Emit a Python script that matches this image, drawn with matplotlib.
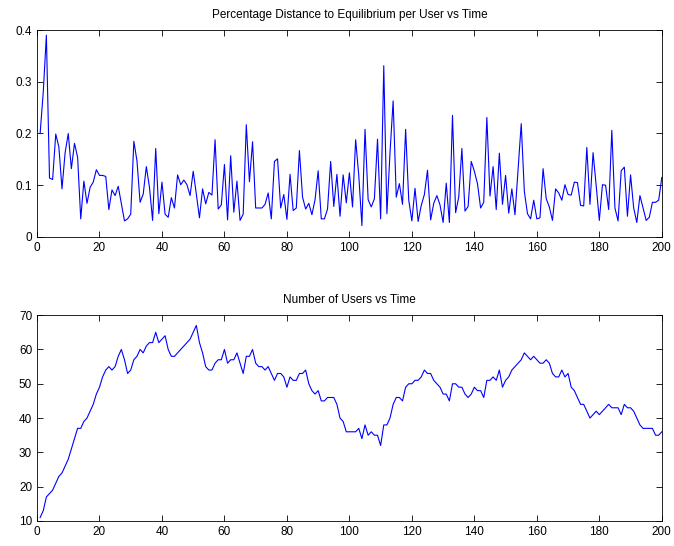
import numpy as np
import matplotlib.pyplot as plt

plt.rcParams['font.family'] = ['Liberation Sans', 'DejaVu Sans']

t = np.arange(1, 201)

# percentage distance to equilibrium per user
dist = [0.20, 0.28, 0.39, 0.114, 0.111, 0.199, 0.174, 0.093, 0.163, 0.20,
        0.132, 0.181, 0.154, 0.035, 0.108, 0.065, 0.096, 0.106, 0.130, 0.119,
        0.119, 0.117, 0.053, 0.091, 0.080, 0.098, 0.064, 0.031, 0.035, 0.044,
        0.185, 0.147, 0.067, 0.083, 0.136, 0.096, 0.032, 0.171, 0.045, 0.106,
        0.044, 0.038, 0.076, 0.056, 0.120, 0.101, 0.110, 0.101, 0.080, 0.127,
        0.083, 0.037, 0.093, 0.064, 0.086, 0.081, 0.188, 0.054, 0.062, 0.140,
        0.033, 0.157, 0.048, 0.108, 0.032, 0.044, 0.217, 0.107, 0.184, 0.056,
        0.056, 0.056, 0.063, 0.085, 0.035, 0.146, 0.151, 0.056, 0.082, 0.034,
        0.121, 0.051, 0.056, 0.167, 0.077, 0.054, 0.065, 0.043, 0.072, 0.128,
        0.035, 0.035, 0.054, 0.146, 0.059, 0.121, 0.040, 0.120, 0.066, 0.124,
        0.058, 0.188, 0.119, 0.022, 0.208, 0.072, 0.058, 0.074, 0.189, 0.035,
        0.331, 0.045, 0.163, 0.263, 0.077, 0.103, 0.063, 0.208, 0.071, 0.031,
        0.094, 0.030, 0.061, 0.082, 0.129, 0.033, 0.065, 0.080, 0.062, 0.028,
        0.104, 0.028, 0.235, 0.047, 0.077, 0.171, 0.050, 0.059, 0.146, 0.127,
        0.103, 0.056, 0.067, 0.231, 0.079, 0.136, 0.053, 0.162, 0.063, 0.119,
        0.046, 0.093, 0.043, 0.131, 0.219, 0.088, 0.045, 0.035, 0.071, 0.035,
        0.037, 0.132, 0.074, 0.058, 0.032, 0.093, 0.085, 0.071, 0.101, 0.082,
        0.081, 0.106, 0.105, 0.061, 0.060, 0.173, 0.063, 0.163, 0.099, 0.032,
        0.101, 0.100, 0.053, 0.206, 0.056, 0.031, 0.128, 0.135, 0.040, 0.120,
        0.056, 0.028, 0.080, 0.056, 0.032, 0.038, 0.067, 0.067, 0.071, 0.115]

# number of users
users = [11, 13, 17, 18, 19, 21, 23, 24, 26, 28,
         31, 34, 37, 37, 39, 40, 42, 44, 47, 49,
         52, 54, 55, 54, 55, 58, 60, 57, 53, 54,
         57, 58, 60, 59, 61, 62, 62, 65, 62, 63,
         64, 60, 58, 58, 59, 60, 61, 62, 63, 65,
         67, 62, 59, 55, 54, 54, 56, 57, 57, 60,
         56, 57, 57, 59, 56, 53, 58, 58, 60, 56,
         55, 55, 54, 55, 53, 51, 53, 53, 52, 49,
         52, 51, 51, 53, 53, 54, 50, 48, 47, 48,
         45, 45, 46, 46, 46, 44, 40, 39, 36, 36,
         36, 36, 37, 34, 38, 35, 36, 35, 35, 32,
         38, 38, 40, 44, 46, 46, 45, 49, 50, 50,
         51, 51, 52, 54, 53, 53, 51, 50, 49, 47,
         47, 45, 50, 50, 49, 49, 47, 46, 47, 49,
         48, 48, 46, 51, 51, 52, 51, 54, 49, 51,
         52, 54, 55, 56, 57, 59, 58, 57, 58, 57,
         56, 56, 57, 56, 53, 52, 52, 54, 52, 53,
         49, 48, 46, 44, 44, 42, 40, 41, 42, 41,
         42, 43, 44, 43, 43, 43, 41, 44, 43, 43,
         42, 40, 38, 37, 37, 37, 37, 35, 35, 36]

fig = plt.figure(figsize=(6.74, 5.46), dpi=100)
ax1 = fig.add_axes([0.0549, 0.566, 0.927, 0.379])
ax2 = fig.add_axes([0.0549, 0.0458, 0.927, 0.377])

ax1.plot(t, dist, color='blue', linewidth=0.8)
ax1.set_xlim(0, 200)
ax1.set_ylim(0, 0.4)
ax1.set_yticks([0, 0.1, 0.2, 0.3, 0.4])
ax1.set_yticklabels(['0', '0.1', '0.2', '0.3', '0.4'])
ax1.set_title('Percentage Distance to Equilibrium per User vs Time', fontsize=8.5, pad=9)

ax2.plot(t, users, color='blue', linewidth=0.8)
ax2.set_xlim(0, 200)
ax2.set_ylim(10, 70)
ax2.set_title('Number of Users vs Time', fontsize=8.5, pad=9)

for ax in (ax1, ax2):
    ax.set_xticks(range(0, 201, 20))
    ax.tick_params(direction='in', top=True, right=True, labelsize=8.5, length=4, width=0.6)
    for s in ax.spines.values():
        s.set_linewidth(0.6)

fig.savefig('out.png', dpi=100)
